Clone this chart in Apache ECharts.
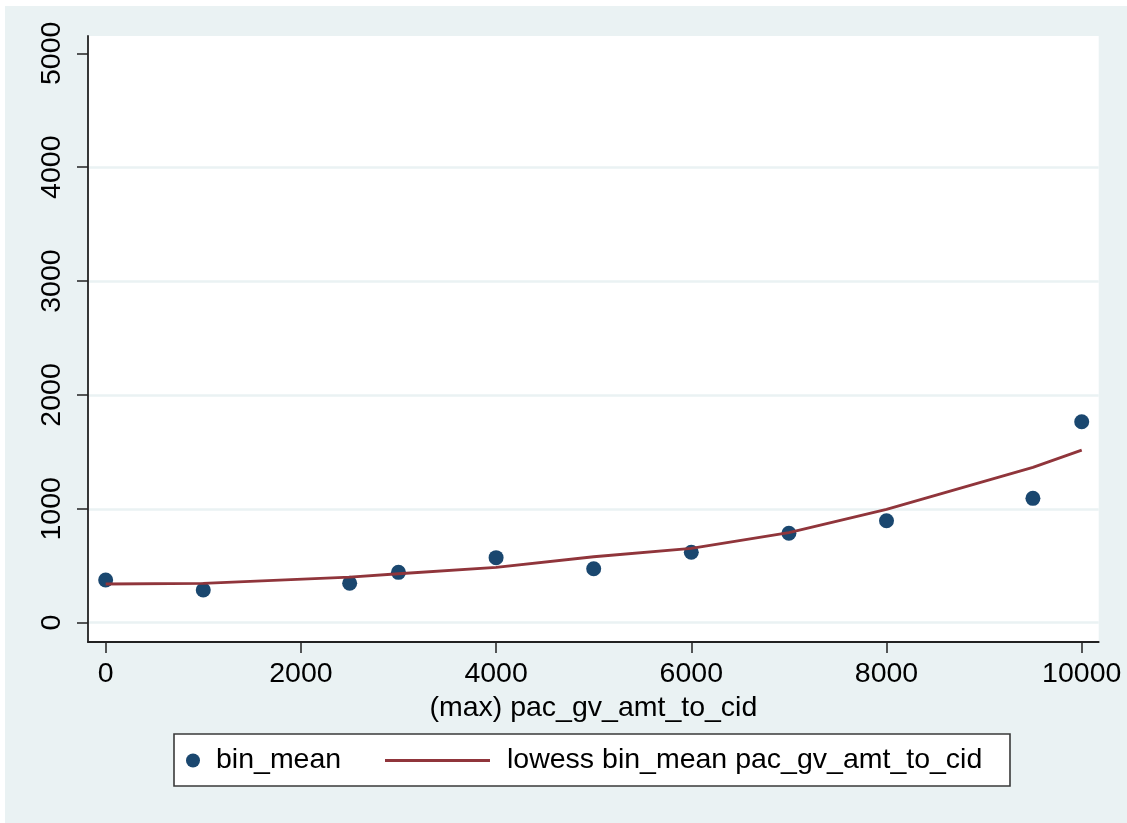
<!DOCTYPE html>
<html>
<head>
<meta charset="utf-8">
<script src="https://cdn.jsdelivr.net/npm/echarts@6/dist/echarts.min.js"></script>
<style>
  html, body { margin: 0; padding: 0; background: #fff; }
  #chart { position: absolute; left: 5px; top: 6px; width: 1122px; height: 817px; }
</style>
</head>
<body>
<div id="chart"></div>
<script>
// values
const binX = [0, 1000, 2500, 3000, 4000, 5000, 6000, 7000, 8000, 9500, 10000]
const binMean = [375, 287, 346, 442, 571, 474, 618, 785, 895, 1092, 1765]
const lowessFit = [340, 346, 400, 430, 486, 579, 653, 790, 995, 1364, 1516]
const xTicks = [0, 2000, 4000, 6000, 8000, 10000]
const yTicks = [0, 1000, 2000, 3000, 4000, 5000]

const xTitle = '(max) pac_gv_amt_to_cid'
const scatterName = 'bin_mean'
const lineName = 'lowess bin_mean pac_gv_amt_to_cid'

const font = 'Arial, "Liberation Sans", sans-serif'
const fontSize = 28.5

const myChart = echarts.init(document.getElementById('chart'))

const option = {
  backgroundColor: '#EAF2F3',
  animation: false,
  textStyle: { fontFamily: font },
  grid: {
    left: 83,
    top: 30,
    right: 28.3,
    bottom: 181,
    show: true,
    backgroundColor: '#fff',
    borderWidth: 0
  },
  xAxis: {
    type: 'value',
    min: -181,
    max: 10174,
    name: xTitle,
    nameLocation: 'middle',
    nameGap: 47,
    nameTextStyle: { fontSize: fontSize, color: '#000', fontFamily: font },
    axisLine: { onZero: false, lineStyle: { color: '#222', width: 1.8 } },
    axisTick: { customValues: xTicks, length: 11, lineStyle: { color: '#222', width: 1.5 } },
    axisLabel: {
      customValues: xTicks,
      margin: 18,
      fontSize: fontSize,
      color: '#000',
      fontFamily: font,
      formatter: v => String(v)
    },
    splitLine: { show: false }
  },
  yAxis: {
    type: 'value',
    min: -169.5,
    max: 5152,
    axisLine: { show: true, onZero: false, lineStyle: { color: '#222', width: 1.8 } },
    axisTick: { show: true, customValues: yTicks, length: 11, lineStyle: { color: '#222', width: 1.5 } },
    axisLabel: {
      customValues: yTicks,
      rotate: 90,
      margin: 21,
      fontSize: fontSize,
      color: '#000',
      fontFamily: font,
      formatter: v => String(v)
    },
    splitLine: {
      show: true,
      showMaxLine: false,
      lineStyle: { color: '#EAF2F3', width: 2.5 }
    }
  },
  legend: [
    {
      data: [scatterName],
      left: 181,
      top: 740,
      padding: 0,
      itemWidth: 14,
      itemHeight: 14,
      selectedMode: false,
      z: 5,
      textStyle: { fontSize: fontSize, color: '#000', fontFamily: font, lineHeight: 28, padding: [0, 0, 0, 11] }
    },
    {
      data: [{ name: lineName, icon: 'rect' }],
      left: 380,
      top: 740,
      padding: 0,
      itemWidth: 105,
      itemHeight: 3,
      selectedMode: false,
      z: 5,
      itemStyle: { color: '#90353B' },
      textStyle: { fontSize: fontSize, color: '#000', fontFamily: font, lineHeight: 28, padding: [0, 0, 0, 12] }
    }
  ],
  graphic: [
    {
      type: 'rect',
      z: 1,
      shape: { x: 169, y: 728, width: 836, height: 52 },
      style: { fill: '#fff', stroke: '#3a3a3a', lineWidth: 1.6 }
    }
  ],
  series: [
    {
      name: scatterName,
      type: 'scatter',
      data: binX.map((x, i) => [x, binMean[i]]),
      symbol: 'circle',
      symbolSize: 15,
      itemStyle: { color: '#1A476F', opacity: 1 },
      z: 3
    },
    {
      name: lineName,
      type: 'line',
      data: binX.map((x, i) => [x, lowessFit[i]]),
      symbol: 'none',
      lineStyle: { color: '#90353B', width: 2.8 },
      itemStyle: { color: '#90353B' },
      z: 4
    }
  ]
}

myChart.setOption(option)
</script>
</body>
</html>
